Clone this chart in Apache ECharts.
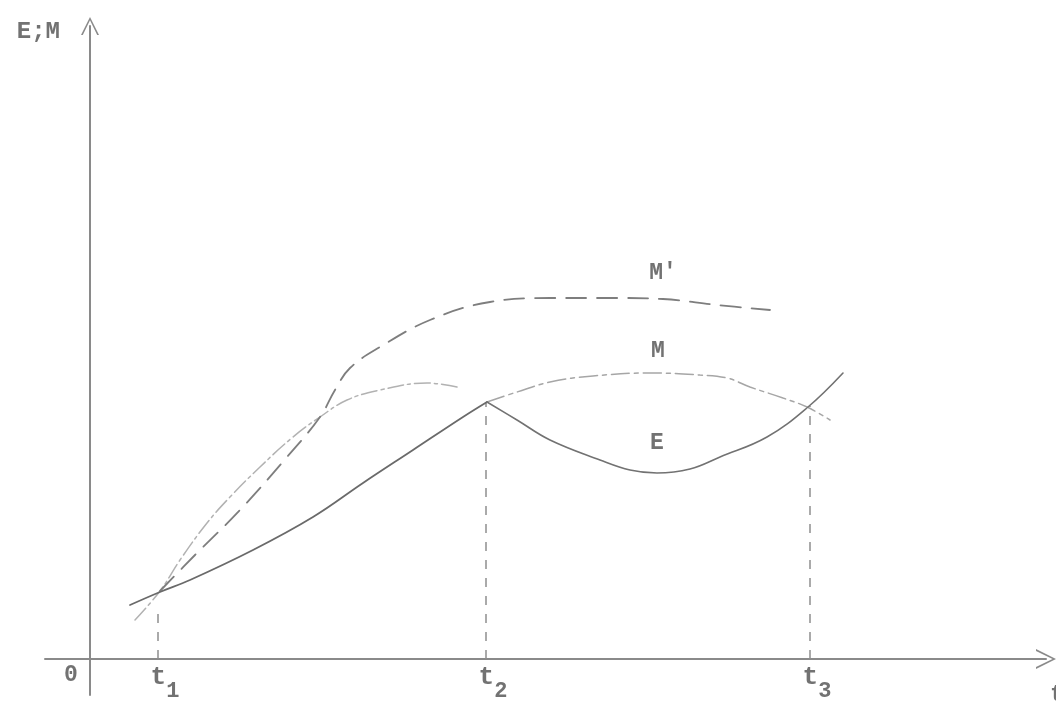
<!DOCTYPE html>
<html>
<head>
<meta charset="utf-8">
<script src="https://cdn.jsdelivr.net/npm/echarts@6/dist/echarts.min.js"></script>
<style>
  html, body { margin: 0; padding: 0; background: #ffffff; }
  #chart { width: 1056px; height: 704px; }
</style>
</head>
<body>
<div id="chart"></div>
<script>
// ---- data (x: time units, y: E/M units) ----
const tTicks = [6.8, 39.6, 72.0];
const tSubs = ['1', '2', '3'];
const tDropHeights = [4.7, 25.7, 25.3];

const eRise = [[4.0,5.4],[7.0,6.7],[10.0,7.9],[16.3,10.9],[22.3,14.2],[27.3,17.6],[32.3,20.9],[37.3,24.2],[39.7,25.7]];
const eFall = [[39.7,25.7],[42.7,23.9],[46.0,21.9],[51.0,19.9],[54.0,18.9],[56.7,18.6],[60.0,19.0],[63.0,20.2],[67.7,22.2],[71.8,25.2],[75.3,28.6]];
const mEarly = [[4.5,3.9],[7.0,6.8],[9.0,9.9],[11.7,13.6],[14.0,16.2],[17.0,19.2],[20.3,22.2],[23.0,24.2],[25.7,25.9],[29.0,26.9],[33.7,27.6],[36.7,27.2]];
const mLate = [[39.7,25.7],[42.7,26.7],[46.0,27.7],[50.3,28.3],[56.0,28.6],[61.0,28.4],[63.7,28.1],[66.0,27.2],[69.3,26.1],[71.7,25.2],[74.0,23.9]];
const mPrime = [[7.0,6.8],[10.5,10.4],[15.0,14.9],[19.7,20.2],[23.0,24.2],[24.5,26.9],[26.0,29.1],[29.0,31.2],[34.0,33.9],[40.0,35.7],[46.0,36.1],[52.7,36.1],[57.3,36.0],[62.7,35.4],[68.0,34.9]];

// ---- styling / construction ----
const FONT = "'Liberation Mono', 'DejaVu Sans Mono', monospace";
const TXT = '#727272';
const AX = '#8a8a8a';
const chevron = 'path://M0,20 L10,0 L20,20 L18,20 L10,3.5 L2,20 Z';

function curve(name, pts, color, width, type, smooth, labelCfg) {
  const data = pts.map((p, i) => {
    if (labelCfg && i === labelCfg.index) {
      return {
        value: p,
        label: {
          show: true, position: 'top', distance: labelCfg.dist, offset: labelCfg.offset || [0, 0],
          formatter: labelCfg.text, color: TXT, fontFamily: FONT, fontSize: 23, fontWeight: 'bold'
        }
      };
    }
    return p;
  });
  return {
    name, type: 'line', data, smooth,
    symbol: 'circle', symbolSize: 1, showSymbol: true,
    itemStyle: { color: 'rgba(0,0,0,0)' },
    lineStyle: { color, width, type, cap: 'round' },
    silent: true, z: 3
  };
}

const series = [
  curve('M0', mEarly, '#b2b2b2', 1.5, [16, 4, 3, 4], 0.4),
  curve("M'", mPrime, '#7e7e7e', 1.8, [20, 11], 0.4, { index: 12, text: "M'", dist: 14 }),
  curve('M', mLate, '#a6a6a6', 1.5, [18, 5, 4, 5], 0.4, { index: 4, text: 'M', dist: 10, offset: [8, 0] }),
  curve('E1', eRise, '#6a6a6a', 1.8, 'solid', 0.4),
  curve('E2', eFall, '#727272', 1.6, 'solid', 0.4, { index: 5, text: 'E', dist: 18 })
];
tTicks.forEach((t, i) => {
  series.push({
    type: 'line', data: [[t, 0], [t, tDropHeights[i]]],
    symbol: 'none', silent: true, z: 2,
    lineStyle: { color: '#8e8e8e', width: 1.5, type: [9, 9] }
  });
});

const chart = echarts.init(document.getElementById('chart'), null, { renderer: 'canvas' });
chart.setOption({
  backgroundColor: '#ffffff',
  animation: false,
  grid: { left: 45, right: 10, top: 26, bottom: 9, containLabel: false, outerBoundsMode: 'none' },
  xAxis: {
    type: 'value', min: -4.5, max: 95.6,
    position: 'bottom', offset: -36,
    name: 't', nameLocation: 'end', nameGap: 4,
    nameTextStyle: { color: TXT, fontFamily: FONT, fontSize: 24, fontWeight: 'bold', align: 'left', verticalAlign: 'top', padding: [24, 0, 0, 0] },
    axisLine: {
      show: true, onZero: false,
      lineStyle: { color: AX, width: 2 },
      symbol: ['none', chevron], symbolSize: [26, 20], symbolOffset: [0, 0]
    },
    axisTick: { show: false },
    splitLine: { show: false },
    axisLabel: {
      show: true, margin: 5,
      customValues: [0].concat(tTicks),
      formatter: function (v) {
        if (v === 0) return '{z|0}';
        const i = tTicks.indexOf(v);
        return '{t|t}{s|' + tSubs[i] + '}';
      },
      rich: {
        z: { fontFamily: FONT, fontSize: 23, fontWeight: 'bold', color: TXT, padding: [0, 38, 0, 0], lineHeight: 28, verticalAlign: 'top' },
        t: { fontFamily: FONT, fontSize: 26, fontWeight: 'bold', color: TXT, lineHeight: 38, verticalAlign: 'top', padding: [0, 0, 0, 14] },
        s: { fontFamily: FONT, fontSize: 22, fontWeight: 'bold', color: TXT, lineHeight: 38, verticalAlign: 'bottom' }
      }
    }
  },
  yAxis: {
    type: 'value', min: -3.6, max: 63.3,
    name: 'E;M', nameLocation: 'end', nameGap: -6,
    nameTextStyle: { color: TXT, fontFamily: FONT, fontSize: 24, fontWeight: 'bold', align: 'right', verticalAlign: 'middle', padding: [0, 30, 0, 0] },
    axisLine: {
      show: true, onZero: true,
      lineStyle: { color: AX, width: 2 },
      symbol: ['none', chevron], symbolSize: [18, 22], symbolOffset: [0, 0]
    },
    axisTick: { show: false },
    splitLine: { show: false },
    axisLabel: { show: false }
  },
  series
});
</script>
</body>
</html>
